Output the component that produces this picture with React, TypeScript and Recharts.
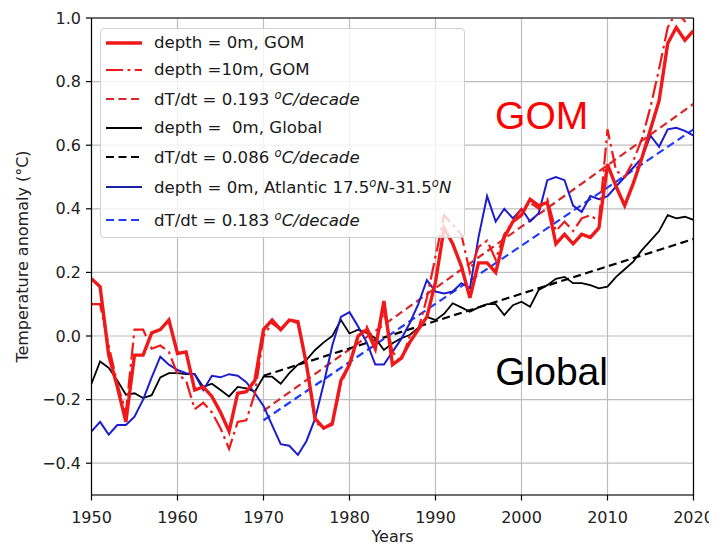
import React from "react";
import {
  ComposedChart,
  Line,
  XAxis,
  YAxis,
  CartesianGrid,
  Legend,
  ReferenceDot,
  ReferenceLine,
  Label,
} from "recharts";

// ---------- data ----------
const years = [
  1950, 1951, 1952, 1953, 1954, 1955, 1956, 1957, 1958, 1959,
  1960, 1961, 1962, 1963, 1964, 1965, 1966, 1967, 1968, 1969,
  1970, 1971, 1972, 1973, 1974, 1975, 1976, 1977, 1978, 1979,
  1980, 1981, 1982, 1983, 1984, 1985, 1986, 1987, 1988, 1989,
  1990, 1991, 1992, 1993, 1994, 1995, 1996, 1997, 1998, 1999,
  2000, 2001, 2002, 2003, 2004, 2005, 2006, 2007, 2008, 2009,
  2010, 2011, 2012, 2013, 2014, 2015, 2016, 2017, 2018, 2019,
  2020,
];

// GOM, depth = 0m
const gom0m = [
  0.18, 0.155, -0.06, -0.16, -0.27, -0.06, -0.06, 0.01, 0.02, 0.05,
  -0.055, -0.05, -0.17, -0.16, -0.19, -0.24, -0.3, -0.18, -0.175, -0.14,
  0.02, 0.05, 0.02, 0.05, 0.045, -0.09, -0.26, -0.29, -0.275, -0.14,
  -0.09, 0.0, 0.02, -0.04, 0.11, -0.09, -0.07, -0.02, 0.02, 0.06,
  0.17, 0.34, 0.29, 0.22, 0.12, 0.23, 0.23, 0.2, 0.31, 0.36,
  0.38, 0.43, 0.41, 0.42, 0.29, 0.32, 0.29, 0.32, 0.31, 0.34,
  0.54, 0.47, 0.41, 0.48, 0.56, 0.65, 0.74, 0.92, 0.97, 0.93,
  0.96,
];

// GOM, depth = 10m
const gom10m = [
  0.1, 0.1, -0.03, -0.15, -0.24, 0.02, 0.02, -0.04, -0.03, -0.05,
  -0.12, -0.14, -0.23, -0.21, -0.24, -0.29, -0.355, -0.27, -0.265, -0.18,
  0.0, 0.04, 0.02, 0.05, 0.04, -0.09, -0.27, -0.29, -0.28, -0.15,
  -0.09, 0.0, 0.03, -0.03, 0.08, -0.05, -0.08, 0.0, 0.02, 0.12,
  0.25, 0.38, 0.35, 0.32, 0.2, 0.28, 0.3, 0.24, 0.32, 0.36,
  0.4, 0.42, 0.4, 0.43, 0.33, 0.36, 0.33, 0.37, 0.38, 0.36,
  0.65, 0.52, 0.5, 0.55, 0.62, 0.72, 0.84, 0.97, 1.02, 0.99,
  1.01,
];

// Global, depth = 0m
const global0m = [
  -0.15, -0.08, -0.1, -0.14, -0.185, -0.18, -0.195, -0.186, -0.13, -0.117,
  -0.117, -0.12, -0.12, -0.16, -0.15, -0.17, -0.19, -0.16, -0.165, -0.175,
  -0.128, -0.128, -0.15, -0.117, -0.09, -0.075, -0.044, -0.02, 0.0, 0.05,
  0.008, 0.02, 0.01, -0.007, -0.044, -0.023, -0.007, 0.003, 0.025, 0.06,
  0.05, 0.07, 0.103, 0.09, 0.076, 0.09, 0.1, 0.1, 0.066, 0.097,
  0.108, 0.092, 0.145, 0.16, 0.18, 0.186, 0.166, 0.166, 0.16, 0.15,
  0.155, 0.186, 0.21, 0.234, 0.27, 0.3, 0.33, 0.38, 0.37, 0.375,
  0.365,
];

// Atlantic 17.5N-31.5N, depth = 0m
const atlantic0m = [
  -0.3, -0.27, -0.31, -0.28, -0.28, -0.254, -0.2, -0.13, -0.065, -0.09,
  -0.107, -0.117, -0.12, -0.17, -0.125, -0.13, -0.12, -0.125, -0.145, -0.18,
  -0.22, -0.28, -0.34, -0.345, -0.374, -0.33, -0.26, -0.15, -0.03, 0.06,
  0.075, 0.03, -0.02, -0.09, -0.09, -0.05, -0.01, 0.04, 0.1, 0.176,
  0.14, 0.134, 0.14, 0.166, 0.15, 0.31, 0.44, 0.36, 0.4, 0.37,
  0.4, 0.36, 0.386, 0.49, 0.5, 0.49, 0.41, 0.39, 0.44, 0.43,
  0.44, 0.47, 0.5, 0.53, 0.56, 0.63, 0.595, 0.65, 0.655, 0.645,
  0.63,
];

// linear trends (end points)
const trendYears = [1970, 2020];
const gomTrend = [-0.235, 0.73];
const globalTrend = [-0.125, 0.305];
const atlanticTrend = [-0.265, 0.65];

const xTicks = [1950, 1960, 1970, 1980, 1990, 2000, 2010, 2020];
const yTicks = [-0.4, -0.2, 0.0, 0.2, 0.4, 0.6, 0.8, 1.0];

const trendAt = (arr: number[], y: number) => {
  const i = trendYears.indexOf(y);
  return i >= 0 ? arr[i] : null;
};

const data = years.map((y, i) => ({
  year: y,
  gom0: gom0m[i],
  gom10: gom10m[i],
  gomT: trendAt(gomTrend, y),
  glob: global0m[i],
  globT: trendAt(globalTrend, y),
  atl: atlantic0m[i],
  atlT: trendAt(atlanticTrend, y),
}));

// ---------- styles ----------
const RED = "#f01818";
const RED_T = "#d62728";
const BLACK = "#000000";
const BLUE = "#1c1cd0";
const BLUE_T = "#1f3cff";
const DASH = "8 4.5";
const DASHDOT = "17 4.5 2.8 4.5";
const FONT = "'DejaVu Sans', sans-serif";
const FS = 16;

const sup = (t: string) => (
  <span style={{ fontSize: "0.7em", verticalAlign: "0.55em", fontStyle: "italic" }}>{t}</span>
);
const it = (t: string) => <span style={{ fontStyle: "italic" }}>{t}</span>;

const legendRows = [
  { c: RED, w: 3.4, d: undefined, top: 13.5, label: <>depth = 0m, GOM</> },
  { c: RED, w: 2.2, d: DASHDOT, top: 40.5, label: <>depth =10m, GOM</> },
  { c: RED_T, w: 2.2, d: DASH, top: 70, label: <>dT/dt = 0.193 {sup("o")}{it("C/decade")}</> },
  { c: BLACK, w: 2, d: undefined, top: 98.5, label: <>depth =  0m, Global</> },
  { c: BLACK, w: 2.2, d: DASH, top: 128, label: <>dT/dt = 0.086 {sup("o")}{it("C/decade")}</> },
  { c: "#1c22a8", w: 2.2, d: undefined, top: 158, label: <>depth = 0m, Atlantic 17.5{sup("o")}{it("N")}-31.5{sup("o")}{it("N")}</> },
  { c: BLUE_T, w: 2.2, d: DASH, top: 191, label: <>dT/dt = 0.183 {sup("o")}{it("C/decade")}</> },
];

const renderLegend = () => (
  <div
    style={{
      position: "relative",
      width: 365,
      height: 210,
      boxSizing: "border-box",
      background: "rgba(255,255,255,0.8)",
      border: "1px solid #d0d0d0",
      borderRadius: 4,
      fontFamily: FONT,
      fontSize: 16.6,
      color: "#1a1a1a",
    }}
  >
    {legendRows.map((r, i) => (
      <div
        key={i}
        style={{
          position: "absolute",
          left: 0,
          top: r.top - 12,
          height: 24,
          display: "flex",
          alignItems: "center",
          whiteSpace: "pre",
        }}
      >
        <svg width={36} height={10} style={{ marginLeft: 5, marginRight: 12 }}>
          <line x1={0} y1={5} x2={36} y2={5} stroke={r.c} strokeWidth={r.w} strokeDasharray={r.d} />
        </svg>
        <span>{r.label}</span>
      </div>
    ))}
  </div>
);

const fmtY = (v: number) => v.toFixed(1).replace("-", "\u2212");

export default function App() {
  return (
    <ComposedChart
      width={709}
      height={539}
      data={data}
      margin={{ top: 10, right: 23.5, bottom: 0, left: 9 }}
    >
      <CartesianGrid stroke="#bdbdbd" strokeWidth={1.2} horizontal vertical />
      <XAxis
        dataKey="year"
        type="number"
        domain={[1950, 2020]}
        ticks={xTicks}
        allowDataOverflow
        height={52}
        tickSize={5.5}
        tickMargin={11}
        axisLine={{ stroke: "#000", strokeWidth: 1.2 }}
        tickLine={{ stroke: "#000", strokeWidth: 1.2 }}
        tick={{ fontSize: FS, fill: "#222", fontFamily: FONT }}
      >
        <Label value="Years" position="insideBottom" offset={5} style={{ fontSize: FS, fill: "#222", fontFamily: FONT }} />
      </XAxis>
      <YAxis
        type="number"
        domain={[-0.5, 1.0]}
        ticks={yTicks}
        allowDataOverflow
        width={74.5}
        tickSize={5.5}
        tickMargin={5}
        tickFormatter={fmtY}
        axisLine={{ stroke: "#000", strokeWidth: 1.2 }}
        tickLine={{ stroke: "#000", strokeWidth: 1.2 }}
        tick={{ fontSize: FS, fill: "#222", fontFamily: FONT }}
      >
        <Label
          value="Temperature anomaly (°C)"
          angle={-90}
          position="insideLeft"
          offset={5}
          style={{ fontSize: FS, fill: "#222", fontFamily: FONT, textAnchor: "middle" }}
        />
      </YAxis>
      <ReferenceLine y={1.0} stroke="#000" strokeWidth={1.2} />
      <ReferenceLine x={2020} stroke="#000" strokeWidth={1.2} />

      <Line dataKey="gomT" stroke={RED_T} strokeWidth={2.2} strokeDasharray={DASH} dot={false} connectNulls isAnimationActive={false} />
      <Line dataKey="globT" stroke={BLACK} strokeWidth={2.2} strokeDasharray={DASH} dot={false} connectNulls isAnimationActive={false} />
      <Line dataKey="atlT" stroke={BLUE_T} strokeWidth={2.2} strokeDasharray={DASH} dot={false} connectNulls isAnimationActive={false} />
      <Line dataKey="glob" stroke={BLACK} strokeWidth={1.8} dot={false} isAnimationActive={false} />
      <Line dataKey="atl" stroke={BLUE} strokeWidth={2} dot={false} isAnimationActive={false} />
      <Line dataKey="gom10" stroke={RED} strokeWidth={2.2} strokeDasharray={DASHDOT} dot={false} isAnimationActive={false} />
      <Line dataKey="gom0" stroke={RED} strokeWidth={3.4} dot={false} isAnimationActive={false} />

      <ReferenceDot
        x={2002.35}
        y={0.695}
        r={0}
        fill="none"
        stroke="none"
        label={{ value: "GOM", position: "center", fill: "#ff0000", fontSize: 39, fontFamily: "'Liberation Sans', Arial, sans-serif" }}
      />
      <ReferenceDot
        x={2003.5}
        y={-0.11}
        r={0}
        fill="none"
        stroke="none"
        label={{ value: "Global", position: "center", fill: "#000", fontSize: 39, fontFamily: "'Liberation Sans', Arial, sans-serif" }}
      />

      <Legend
        layout="vertical"
        align="center"
        verticalAlign="middle"
        content={renderLegend}
        wrapperStyle={{ left: 92, top: 20, width: 365, height: 210 }}
      />
    </ComposedChart>
  );
}
